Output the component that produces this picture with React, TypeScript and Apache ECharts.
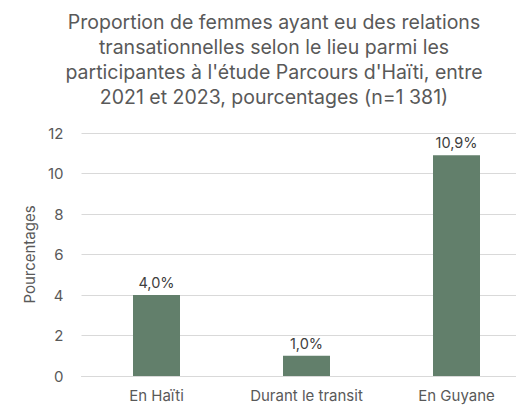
import React, { useEffect, useRef } from "react";
import * as echarts from "echarts";

const categories = ["En Haïti", "Durant le transit", "En Guyane"];
const values = [4.0, 1.0, 10.9];
const yTicks = [0, 2, 4, 6, 8, 10, 12];
const titleLines = [
  "Proportion de femmes ayant eu des relations",
  "transationnelles selon le lieu parmi les",
  "participantes à l'étude Parcours d'Haïti, entre",
  "2021 et 2023, pourcentages (n=1 381)",
];

export default function App() {
  const ref = useRef<HTMLDivElement>(null);
  useEffect(() => {
    const chart = echarts.init(ref.current!, null, { renderer: "svg" });
    const font = "Inter, 'Open Sans', 'Noto Sans', sans-serif";
    chart.setOption({
      animation: false,
      backgroundColor: "#ffffff",
      graphic: [
        {
          type: "text",
          x: 274,
          y: 9,
          style: {
            text: titleLines.join("\n"),
            textAlign: "center",
            fontFamily: font,
            fontSize: 19.5,
            lineHeight: 25,
            fill: "#595959",
          },
        },
      ],
      grid: {
        left: 81.5,
        width: 450,
        top: 133,
        bottom: 29,
        containLabel: false,
        outerBoundsMode: "none",
      },
      xAxis: {
        type: "category",
        data: categories,
        axisLine: { lineStyle: { color: "#d9d9d9" } },
        axisTick: { show: false },
        axisLabel: { color: "#595959", fontSize: 15, fontFamily: font, margin: 12, interval: 0 },
      },
      yAxis: {
        type: "value",
        min: yTicks[0],
        max: yTicks[yTicks.length - 1],
        interval: 2,
        name: "Pourcentages",
        nameLocation: "middle",
        nameGap: 44,
        nameTextStyle: { color: "#595959", fontSize: 15, fontFamily: font },
        axisLine: { show: false },
        axisTick: { show: false },
        splitLine: { lineStyle: { color: "#d9d9d9" } },
        axisLabel: { color: "#595959", fontSize: 15, fontFamily: font, margin: 18 },
      },
      series: [
        {
          type: "bar",
          data: values,
          barWidth: 47,
          itemStyle: { color: "#627f6b" },
          label: {
            show: true,
            position: "top",
            distance: 5,
            color: "#404040",
            fontSize: 14.5,
            fontFamily: font,
            formatter: (p: any) => p.value.toFixed(1).replace(".", ",") + "%",
          },
        },
      ],
    });
    return () => chart.dispose();
  }, []);
  return (
    <div
      ref={ref}
      style={{ position: "fixed", left: 0, top: 0, width: 516, height: 405 }}
    />
  );
}
